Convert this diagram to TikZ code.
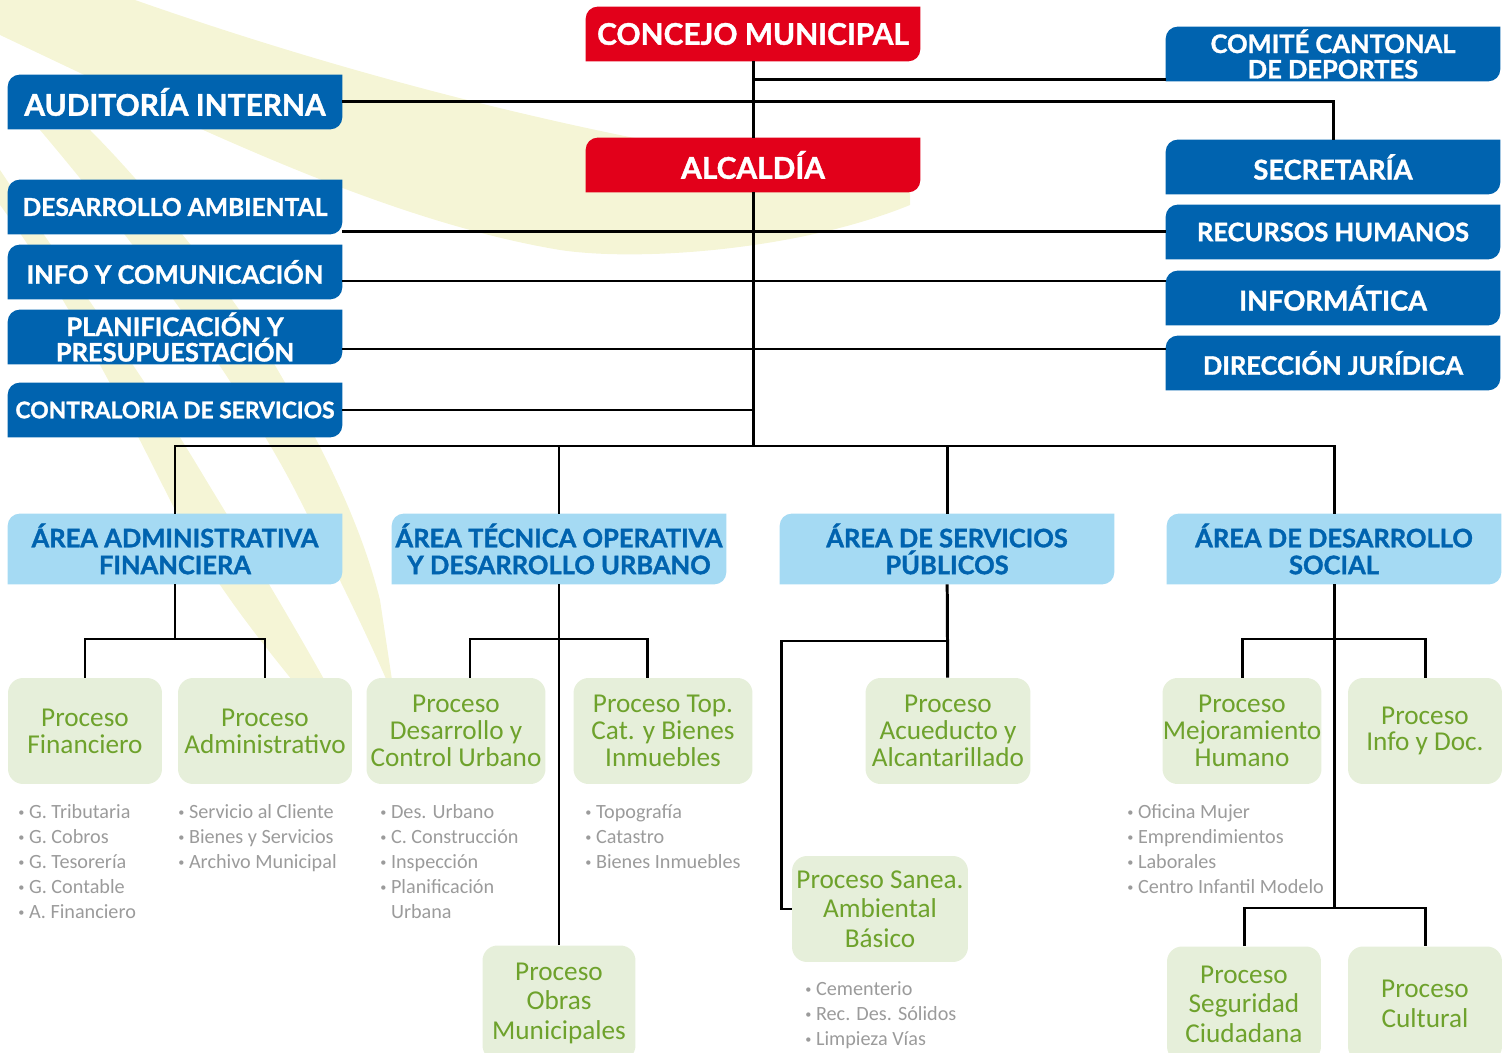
\documentclass[tikz,border=0pt]{standalone}
\usepackage{fontspec}
\setmainfont{Lato}[BoldFeatures={FakeBold=1.3}]
\newfontfamily\procfont{Carlito}
\usetikzlibrary{positioning}

\definecolor{munred}{RGB}{226,0,26}
\definecolor{munblue}{RGB}{0,99,175}
\definecolor{arealight}{RGB}{165,218,243}
\definecolor{procfill}{RGB}{230,239,218}
\definecolor{procgreen}{RGB}{110,162,44}
\definecolor{itemgray}{RGB}{155,155,155}
\definecolor{swoosh}{RGB}{245,245,214}

\newcommand{\itm}{{\fontsize{7}{0}\selectfont\raisebox{1.2pt}{•}}\ }

\pgfdeclarelayer{swooshlayer}
\pgfdeclarelayer{background}
\pgfsetlayers{swooshlayer,background,main}

\tikzset{
  tab/.style={minimum width=6.68cm, minimum height=1.08cm, inner sep=0pt, align=center,
    text=white, font=\bfseries\fontsize{17}{15}\selectfont},
  tabtwo/.style={tab, font=\bfseries\fontsize{14.5}{14.5}\selectfont},
  areabox/.style={tab, minimum height=1.4cm, text=munblue, font=\bfseries\fontsize{14.5}{15.3}\selectfont},
  proc/.style={fill=procfill, rounded corners=0.3cm, minimum height=2.12cm, inner sep=0pt,
    align=center, text=procgreen, font=\procfont\fontsize{15.5}{15.3}\selectfont},
  items/.style={anchor=north west, inner sep=0pt, align=left, text=itemgray,
    font=\procfont\fontsize{11.5}{14.2}\selectfont},
  link/.style={line width=1.7pt},
}

\begin{document}
\begin{tikzpicture}[x=0.02cm, y=-0.02cm]
  \useasboundingbox (0,0) rectangle (1512,1053);

  % pale background swooshes
  \begin{pgfonlayer}{swooshlayer}
    \fill[swoosh] (0,0) -- (135,0) .. controls (420,100) and (700,160) .. (910,180)
      -- (910,205) .. controls (800,250) and (640,262) .. (560,250)
      .. controls (380,220) and (180,120) .. (0,35) -- cycle;
    \fill[swoosh] (0,205) .. controls (70,300) and (130,420) .. (170,500)
      .. controls (210,580) and (260,640) .. (300,690) -- (330,690)
      .. controls (280,600) and (230,520) .. (200,470)
      .. controls (140,370) and (60,260) .. (0,170) -- cycle;
    \fill[swoosh] (40,130) .. controls (150,260) and (250,400) .. (300,500)
      .. controls (340,580) and (370,640) .. (395,700) -- (380,600)
      .. controls (360,520) and (320,440) .. (260,340)
      .. controls (200,250) and (130,170) .. (90,130) -- cycle;
  \end{pgfonlayer}

  % top level
  \node[tab] (concejo) at (753,34) {CONCEJO MUNICIPAL};
  \node[tab] (alcaldia) at (753,165) {ALCALDÍA};
  \node[tabtwo] (comite) at (1333,54) {COMITÉ CANTONAL\\DE DEPORTES};
  \node[tab] (auditoria) at (175,102) {AUDITORÍA INTERNA};
  \node[tab, font=\bfseries\fontsize{15.5}{14}\selectfont] (secretaria) at (1333,167) {SECRETARÍA};
  \node[tab, font=\bfseries\fontsize{14}{14}\selectfont] (desamb) at (175,207) {DESARROLLO AMBIENTAL};
  \node[tab, font=\bfseries\fontsize{14.5}{14}\selectfont] (rrhh) at (1333,232) {RECURSOS HUMANOS};
  \node[tab, font=\bfseries\fontsize{14.5}{14}\selectfont] (infocom) at (175,272) {INFO Y COMUNICACIÓN};
  \node[tab, font=\bfseries\fontsize{15.5}{14}\selectfont] (informatica) at (1333,298) {INFORMÁTICA};
  \node[tabtwo] (planif) at (175,337) {PLANIFICACIÓN Y\\PRESUPUESTACIÓN};
  \node[tab, font=\bfseries\fontsize{14.5}{14}\selectfont] (juridica) at (1333,363) {DIRECCIÓN JURÍDICA};
  \node[tab, font=\bfseries\fontsize{13}{13}\selectfont] (contralor) at (175,410) {CONTRALORIA DE SERVICIOS};

  % areas
  \node[areabox] (areaadm) at (175,549) {ÁREA ADMINISTRATIVA\\FINANCIERA};
  \node[areabox] (areatec) at (559,549) {ÁREA TÉCNICA OPERATIVA\\Y DESARROLLO URBANO};
  \node[areabox] (areaserv) at (947,549) {ÁREA DE SERVICIOS\\PÚBLICOS};
  \node[areabox] (areasoc) at (1334,549) {ÁREA DE DESARROLLO\\SOCIAL};

  \begin{pgfonlayer}{background}
    \foreach \n/\c in {concejo/munred, alcaldia/munred, comite/munblue, auditoria/munblue,
        secretaria/munblue, desamb/munblue, rrhh/munblue, infocom/munblue,
        informatica/munblue, planif/munblue, juridica/munblue, contralor/munblue,
        areaadm/arealight, areatec/arealight, areaserv/arealight, areasoc/arealight}
      \fill[\c] ([yshift=-0.24cm]\n.north west) arc[start angle=180, end angle=90, radius=0.24cm]
        -- (\n.north east) -- ([yshift=0.24cm]\n.south east)
        arc[start angle=0, end angle=-90, radius=0.24cm] -- (\n.south west) -- cycle;
  \end{pgfonlayer}

  % processes
  \node[proc, minimum width=3.08cm] (pfin) at (85,731) {Proceso\\Financiero};
  \node[proc, minimum width=3.48cm] (padm) at (265,731) {Proceso\\Administrativo};
  \node[proc, minimum width=3.58cm] (pdes) at (456,731) {Proceso\\Desarrollo y\\Control Urbano};
  \node[proc, minimum width=3.58cm] (ptop) at (663,731) {Proceso Top.\\Cat. y Bienes\\Inmuebles};
  \node[proc, minimum width=3.3cm] (pacu) at (948,731) {Proceso\\Acueducto y\\Alcantarillado};
  \node[proc, minimum width=3.18cm] (pmej) at (1242,731) {Proceso\\Mejoramiento\\Humano};
  \node[proc, minimum width=3.08cm] (pinfo) at (1425,731) {Proceso\\Info y Doc.};
  \node[proc, minimum width=3.52cm, font=\procfont\fontsize{15.5}{16.8}\selectfont] (psan) at (880,909) {Proceso Sanea.\\Ambiental\\Básico};
  \node[proc, minimum width=3.06cm, minimum height=2.3cm, font=\procfont\fontsize{15.5}{16.8}\selectfont] (pobras) at (559,1003) {Proceso\\Obras\\Municipales};
  \node[proc, minimum width=3.08cm, minimum height=2.3cm, font=\procfont\fontsize{15.5}{16.8}\selectfont] (pseg) at (1244,1004) {Proceso\\Seguridad\\Ciudadana};
  \node[proc, minimum width=3.08cm, minimum height=2.3cm, font=\procfont\fontsize{15.5}{16.8}\selectfont] (pcul) at (1425,1004) {Proceso\\Cultural};

  % item lists
  \node[items] (lfin) at (18,804) {\itm G. Tributaria\\\itm G. Cobros\\\itm G. Tesorería\\\itm G. Contable\\\itm A. Financiero};
  \node[items] (ladm) at (178,804) {\itm Servicio al Cliente\\\itm Bienes y Servicios\\\itm Archivo Municipal};
  \node[items] (ldes) at (380,804) {\itm Des. Urbano\\\itm C. Construcción\\\itm Inspección\\\itm Planificación\\\phantom{\itm}Urbana};
  \node[items] (ltop) at (585,804) {\itm Topografía\\\itm Catastro\\\itm Bienes Inmuebles};
  \node[items] (lsoc) at (1127,804) {\itm Oficina Mujer\\\itm Emprendimientos\\\itm Laborales\\\itm Centro Infantil Modelo};
  \node[items] (lsan) at (805,981) {\itm Cementerio\\\itm Rec. Des. Sólidos\\\itm Limpieza Vías};

  % connectors
  \coordinate (bus) at (753,446);
  \coordinate (cm) at (753,80);
  \coordinate (ic) at (753,281);
  \coordinate (pj) at (753,349);
  \draw[link] (concejo) -- (alcaldia);
  \draw[link] (alcaldia) -- (bus);
  \draw[link] (cm) -- (cm -| comite.west);
  \draw[link] (auditoria.east) -| (secretaria.north);
  \draw[link] (rrhh.west) -- (rrhh.west -| desamb.east);
  \draw[link] (ic -| infocom.east) -- (ic -| informatica.west);
  \draw[link] (pj -| planif.east) -- (pj -| juridica.west);
  \draw[link] (contralor.east) -- (contralor.east -| bus);
  \draw[link] (areaadm.north) |- (bus) -| (areasoc.north);
  \draw[link] (areatec.north) -- (areatec.north |- bus);
  \draw[link] (areaserv.north) -- (areaserv.north |- bus);

  \coordinate (ab) at (175,639);
  \draw[link] (areaadm) -- (ab);
  \draw[link] (pfin.north) |- (ab) -| (padm.north);

  \coordinate (tb) at (559,639);
  \draw[link] (areatec) -- (pobras);
  \draw[link] ([xshift=0.28cm]pdes.north) |- (tb) -| ([xshift=-0.32cm]ptop.north);

  \coordinate (sb) at (947,641);
  \coordinate (sl) at (781,641);
  \draw[link] (areaserv) -- (pacu);
  \draw[link] (sb) -- (sl) |- (psan.west);

  \coordinate (so1) at (1334,639);
  \coordinate (so2) at (1334,908);
  \draw[link] (areasoc) -- (so2);
  \draw[link] (pmej.north) |- (so1) -| (pinfo.north);
  \draw[link] (pseg.north) |- (so2) -| (pcul.north);
\end{tikzpicture}
\end{document}
